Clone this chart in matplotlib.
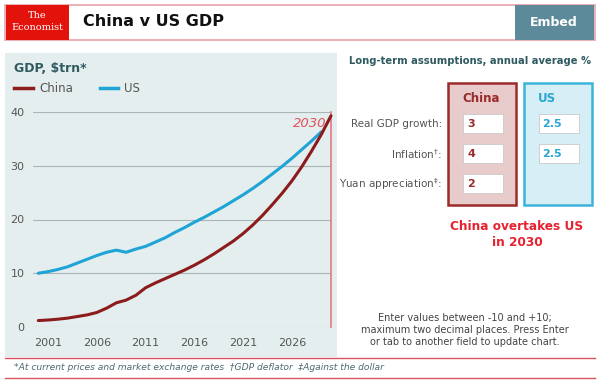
import matplotlib
matplotlib.use("Agg")
import matplotlib.pyplot as plt
from matplotlib.patches import Rectangle
from matplotlib.lines import Line2D

# GDP, $trn
years_china = list(range(2000, 2031))
china_gdp = [1.2, 1.3, 1.45, 1.65, 1.95, 2.25, 2.7, 3.5, 4.5, 5.0,
             5.9, 7.3, 8.2, 9.0, 9.8, 10.6, 11.5, 12.5, 13.6, 14.8,
             16.0, 17.4, 19.0, 20.8, 22.8, 24.9, 27.2, 29.8, 32.7, 35.8, 39.3]
years_us = list(range(2000, 2030))
us_gdp = [10.0, 10.3, 10.7, 11.2, 11.9, 12.6, 13.3, 13.9, 14.3, 13.9,
          14.5, 15.0, 15.8, 16.6, 17.6, 18.5, 19.5, 20.4, 21.4, 22.4,
          23.5, 24.6, 25.8, 27.1, 28.5, 29.9, 31.4, 33.0, 34.6, 36.3]
x_ticks = [2001, 2006, 2011, 2016, 2021, 2026]
y_ticks = [0, 10, 20, 30, 40]
overtake_year = 2030

row_labels = ["Real GDP growth:", "Inflation$^{\u2020}$:", "Yuan appreciation$^{\u2021}$:"]
china_inputs = ["3", "4", "2"]
us_inputs = ["2.5", "2.5"]

W, H = 600, 385
RED = "#8c1c1c"
BLUE = "#1ea4d6"
TEAL = "#2f5a60"
GREY = "#555555"


def fx(x):
    return x / W


def fy(y):
    return 1 - y / H


fig = plt.figure(figsize=(6, 3.85), dpi=100)
fig.patch.set_facecolor("white")


def rect(x0, y0, x1, y1, **kw):
    fig.patches.append(Rectangle((fx(x0), fy(y1)), fx(x1 - x0), (y1 - y0) / H,
                                 transform=fig.transFigure, zorder=-1, **kw))


def text(x, y, s, **kw):
    fig.text(fx(x), fy(y), s, **kw)


# header
rect(5, 5, 595, 40, facecolor="white", edgecolor="#e9a3ad", lw=1.2)
rect(6, 5, 69, 40, facecolor="#e3120b", edgecolor="none")
text(37, 16, "The", color="white", fontsize=7, family="DejaVu Serif",
     ha="center", va="center")
text(37, 28, "Economist", color="white", fontsize=7, family="DejaVu Serif",
     ha="center", va="center")
text(83, 22, "China v US GDP", fontsize=11.5, fontweight="bold",
     color="#111111", va="center")
rect(515, 5, 594, 40, facecolor="#5d8a9b", edgecolor="none")
text(554, 22, "Embed", fontsize=9, fontweight="bold", color="white",
     ha="center", va="center")

# left panel
rect(5, 53, 337, 357, facecolor="#e5eeef", edgecolor="none")
text(14, 68, "GDP, $trn*", fontsize=9, fontweight="bold", color=TEAL, va="center")
fig.lines.append(Line2D([fx(14), fx(33)], [fy(88), fy(88)], color=RED, lw=2.5,
                        transform=fig.transFigure))
text(39, 88, "China", fontsize=8.5, color=GREY, va="center")
fig.lines.append(Line2D([fx(100), fx(118)], [fy(88), fy(88)], color=BLUE, lw=2.5,
                        transform=fig.transFigure))
text(124, 88, "US", fontsize=8.5, color=GREY, va="center")

ax = fig.add_axes([fx(33), fy(327), fx(331 - 33), (327 - 112) / H])
ax.set_zorder(2)
ax.set_facecolor("none")
ax.set_xlim(1999.46, 2030.0)
ax.set_ylim(0, 40)
for s in ax.spines.values():
    s.set_visible(False)
ax.set_yticks(y_ticks)
ax.set_xticks(x_ticks)
ax.tick_params(length=0, labelsize=8, labelcolor=GREY)
ax.tick_params(axis="y", pad=6)
ax.tick_params(axis="x", pad=8)
ax.grid(axis="y", color="#a9b5b6", lw=0.8)
ax.set_axisbelow(True)

ax.axvline(overtake_year, color="#e27a84", lw=1.2, clip_on=False)
ax.plot(years_us, us_gdp, color=BLUE, lw=2.2, solid_capstyle="round")
ax.plot(years_china, china_gdp, color=RED, lw=2.2, solid_capstyle="round",
        clip_on=False)
ax.text(overtake_year - 0.5, 37.9, str(overtake_year), color="#e0505c",
        fontsize=9.5, style="italic", ha="right", va="center")

# right panel
text(470, 61, "Long-term assumptions, annual average %", fontsize=7.2,
     fontweight="bold", color=TEAL, ha="center", va="center")
rect(448, 83, 516, 205, facecolor="#e8cbcb", edgecolor="#9b2a2a", lw=1.8)
rect(524, 83, 592, 205, facecolor="#d6eef6", edgecolor="#3cb4da", lw=1.8)
text(462, 98, "China", fontsize=8.5, fontweight="bold", color="#9b2a2a", va="center")
text(538, 98, "US", fontsize=8.5, fontweight="bold", color="#2aa6d2", va="center")

row_y = [124, 154, 184]
for lab, y in zip(row_labels, row_y):
    text(442, y, lab, fontsize=7.5, color=GREY, ha="right", va="center")
for val, y in zip(china_inputs, row_y):
    rect(463, y - 10, 503, y + 9, facecolor="white", edgecolor="#c9c9c9", lw=0.6)
    text(467, y, val, fontsize=8, fontweight="bold", color="#9b2a2a", va="center")
for val, y in zip(us_inputs, row_y):
    rect(539, y - 10, 579, y + 9, facecolor="white", edgecolor="#c9c9c9", lw=0.6)
    text(542, y, val, fontsize=8, fontweight="bold", color="#2aa6d2", va="center")

text(517, 227, "China overtakes US", fontsize=8.7, fontweight="bold",
     color="#e62230", ha="center", va="center")
text(517, 243, "in %d" % overtake_year, fontsize=8.7, fontweight="bold",
     color="#e62230", ha="center", va="center")

text(465, 330, "Enter values between -10 and +10;\nmaximum two decimal places. Press Enter\n"
     "or tab to another field to update chart.", fontsize=7, color="#444444",
     ha="center", va="center", linespacing=1.3)

# footnote
for y in (358, 378):
    fig.lines.append(Line2D([fx(5), fx(595)], [fy(y), fy(y)], color="#d9535d",
                            lw=1.0, transform=fig.transFigure))
text(14, 368, "*At current prices and market exchange rates  \u2020GDP deflator  "
     "\u2021Against the dollar", fontsize=6.6, style="italic", color="#4b6a70",
     va="center")

fig.savefig("out.png", dpi=100)
